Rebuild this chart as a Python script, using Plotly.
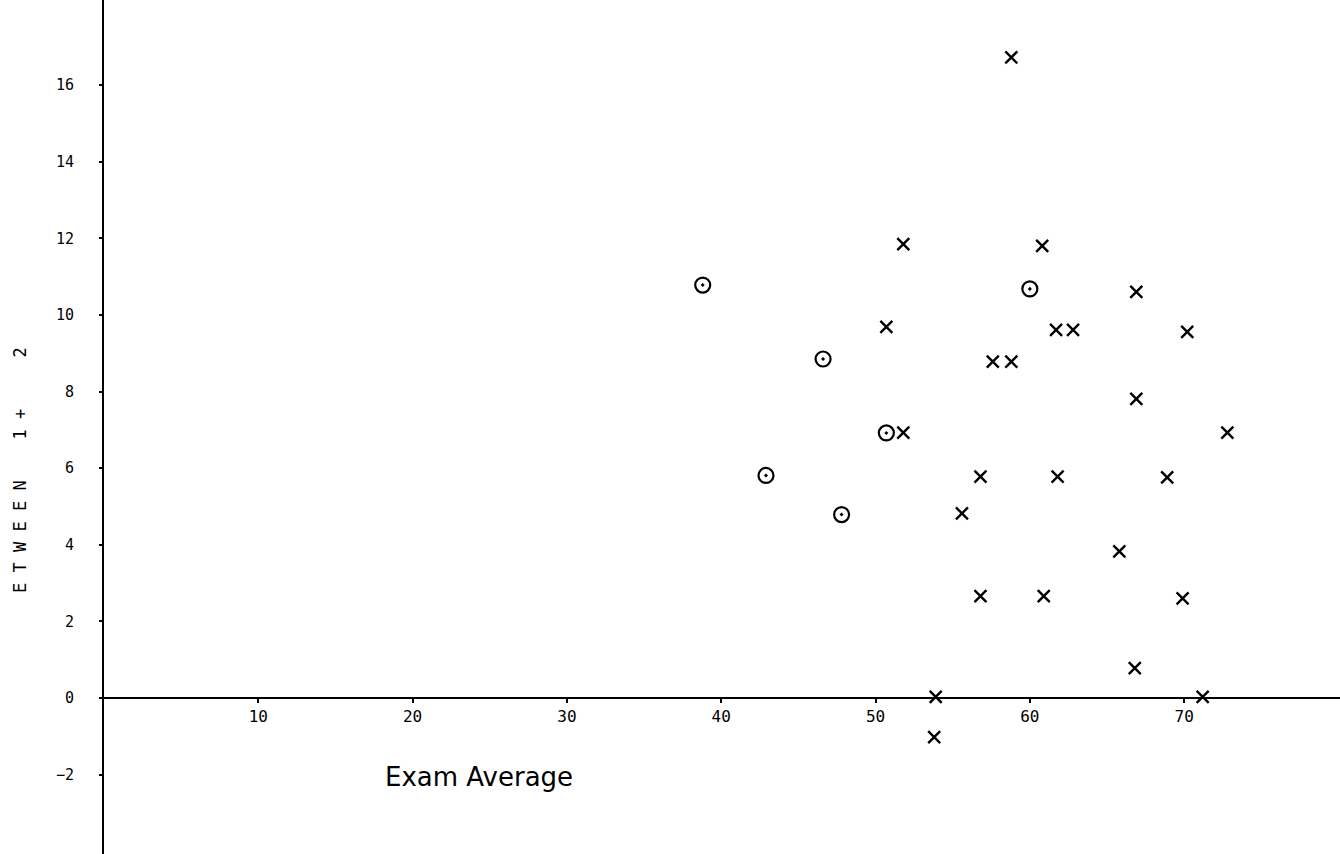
import plotly.graph_objects as go

# Circles (O) — exam average vs difference
circle_x = [38.8, 46.6, 50.7, 42.9, 47.8, 60.0]
circle_y = [10.78, 8.85, 6.92, 5.81, 4.79, 10.68]

# Crosses (X)
cross_x = [58.8, 51.8, 60.8, 66.9, 50.7, 61.7, 62.8, 70.2, 57.6, 58.8, 66.9, 51.8, 72.8,
           56.8, 61.8, 68.9, 55.6, 65.8, 56.8, 60.9, 69.9, 66.8, 53.9, 71.2, 53.8]
cross_y = [16.72, 11.85, 11.80, 10.60, 9.69, 9.61, 9.61, 9.56, 8.78, 8.78, 7.81, 6.93, 6.93,
           5.78, 5.78, 5.76, 4.82, 3.83, 2.66, 2.66, 2.60, 0.78, 0.03, 0.03, -1.02]

x_ticks = [10, 20, 30, 40, 50, 60, 70]
y_ticks = [-2, 0, 2, 4, 6, 8, 10, 12, 14, 16]

x_range = [0, 80.1]
y_range = [-4.07, 18.22]

fig = go.Figure()
fig.add_trace(go.Scatter(
    x=circle_x, y=circle_y, mode="markers",
    marker=dict(symbol="circle-open-dot", size=15, color="black", line=dict(width=2.2, color="black")),
    showlegend=False))
fig.add_trace(go.Scatter(
    x=cross_x, y=cross_y, mode="markers",
    marker=dict(symbol="x-thin-open", size=12, color="black", line=dict(width=2.4, color="black")),
    showlegend=False))

x_axis_pos = (0 - y_range[0]) / (y_range[1] - y_range[0])

fig.update_layout(
    width=1340, height=854,
    margin=dict(l=104, r=0, t=0, b=0, autoexpand=False),
    paper_bgcolor="white", plot_bgcolor="white",
    font=dict(family="DejaVu Sans Mono", color="black", size=15),
    xaxis=dict(range=x_range, tickvals=x_ticks, showgrid=False, zeroline=False,
               showline=True, linecolor="black", linewidth=2,
               ticks="outside", ticklen=4, tickwidth=1.5, tickcolor="black",
               anchor="free", position=x_axis_pos, automargin=False,
               tickfont=dict(size=16, family="DejaVu Sans Mono")),
    yaxis=dict(range=y_range, tickvals=y_ticks, showgrid=False, zeroline=False,
               showline=True, linecolor="black", linewidth=2,
               ticks="outside", ticklen=3, tickwidth=1.5, tickcolor="black",
               ticklabelstandoff=22, automargin=False,
               tickfont=dict(size=15, family="DejaVu Sans Mono")),
)

nb = "\u00a0"
ytitle = f"E{nb}T{nb}W{nb}E{nb}E{nb}N{nb*4}1{nb}+{nb*5}2"
fig.add_annotation(text=ytitle, xref="paper", yref="paper", x=-0.068, y=0.4497,
                   xanchor="center", yanchor="middle", textangle=-90, showarrow=False,
                   font=dict(family="DejaVu Sans Mono", size=17, color="black"))
fig.add_annotation(text="Exam Average", xref="x", yref="y", x=24.3, y=-2.05,
                   xanchor="center", yanchor="middle", showarrow=False,
                   font=dict(family="DejaVu Sans", size=26, color="black"))

fig.write_html("out.html", config={"displayModeBar": False},
               post_script="document.body.style.margin='0';document.body.style.overflow='hidden';")
